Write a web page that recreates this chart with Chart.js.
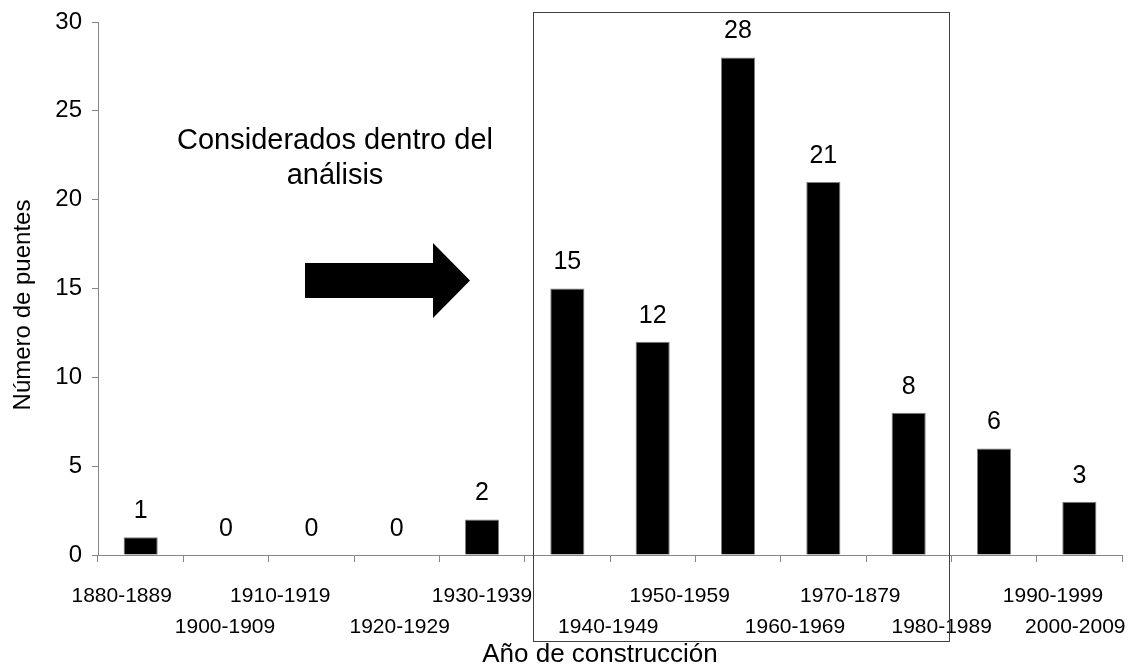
<!DOCTYPE html>
<html>
<head>
<meta charset="utf-8">
<script src="https://cdn.jsdelivr.net/npm/chart.js@4"></script>
<style>
  html, body { margin: 0; padding: 0; background: #fff; }
  #wrap { width: 1136px; height: 666px; }
</style>
</head>
<body>
<div id="wrap"><canvas id="chart" width="1136" height="666"></canvas></div>
<script>
const categories = ["1880-1889", "1900-1909", "1910-1919", "1920-1929", "1930-1939", "1940-1949",
    "1950-1959", "1960-1969", "1970-1879", "1980-1989", "1990-1999", "2000-2009"];
const bridgeCounts = [1, 0, 0, 0, 2, 15, 12, 28, 21, 8, 6, 3];
const yTicks = [0, 5, 10, 15, 20, 25, 30];

// the original staggers the decade labels in two rows and nudges them sideways
const labelNudge = [-19, -1, -31, 3, 0, 41, 27, 57, 27, 33, 59, -4];

const axisGray = "#868686";
const textFont = "'Liberation Sans', Arial, sans-serif";

// value labels above each bar
const barLabels = {
    id: "barLabels",
    afterDatasetsDraw(chart) {
        const ctx = chart.ctx;
        const meta = chart.getDatasetMeta(0);
        ctx.save();
        ctx.font = "25px " + textFont;
        ctx.fillStyle = "#000";
        ctx.textAlign = "center";
        ctx.textBaseline = "middle";
        meta.data.forEach((bar, i) => {
            ctx.fillText(String(bridgeCounts[i]), bar.x, bar.y - 26);
        });
        ctx.restore();
    }
};

// decade labels and axis titles
const axisText = {
    id: "axisText",
    afterDraw(chart) {
        const ctx = chart.ctx;
        const x = chart.scales.x;
        const area = chart.chartArea;
        ctx.save();
        ctx.fillStyle = "#000";
        ctx.textAlign = "center";
        ctx.textBaseline = "middle";
        ctx.font = "21px " + textFont;
        categories.forEach((label, i) => {
            const px = x.getPixelForValue(i) + labelNudge[i];
            const py = area.bottom + (i % 2 === 0 ? 41 : 72);
            ctx.fillText(label, px, py);
        });

        ctx.font = "26px " + textFont;
        ctx.fillText("Año de construcción", 600, 655);

        ctx.translate(23, 305);
        ctx.rotate(-Math.PI / 2);
        ctx.font = "24px " + textFont;
        ctx.fillText("Número de puentes", 0, 0);
        ctx.restore();
    }
};

// box around the analysed decades, arrow and note
const analysisNote = {
    id: "analysisNote",
    afterDraw(chart) {
        const ctx = chart.ctx;
        ctx.save();
        ctx.strokeStyle = "#404040";
        ctx.lineWidth = 1;
        ctx.strokeRect(533.5, 12.5, 416, 629);

        ctx.fillStyle = "#000";
        ctx.beginPath();
        ctx.moveTo(305, 263);
        ctx.lineTo(433, 263);
        ctx.lineTo(433, 243);
        ctx.lineTo(470, 280.5);
        ctx.lineTo(433, 318);
        ctx.lineTo(433, 298);
        ctx.lineTo(305, 298);
        ctx.closePath();
        ctx.fill();

        ctx.font = "29px " + textFont;
        ctx.textAlign = "center";
        ctx.textBaseline = "middle";
        ctx.fillText("Considerados dentro del", 335, 141);
        ctx.fillText("análisis", 335, 176);
        ctx.restore();
    }
};

new Chart(document.getElementById("chart"), {
    type: "bar",
    data: {
        labels: categories,
        datasets: [{
            data: bridgeCounts,
            backgroundColor: "#000",
            borderColor: "#7f7f7f",
            borderWidth: 1,
            categoryPercentage: 1,
            barPercentage: 0.4
        }]
    },
    options: {
        responsive: false,
        animation: false,
        layout: { padding: { top: 22, right: 14, left: 0, bottom: 0 } },
        plugins: {
            legend: { display: false },
            tooltip: { enabled: false }
        },
        scales: {
            x: {
                afterFit: s => { s.height = 111; s.paddingLeft = 0; s.paddingRight = 0; },
                border: { color: axisGray, width: 1 },
                grid: { drawOnChartArea: false, color: axisGray, tickLength: 7, offset: true },
                ticks: { display: false, autoSkip: false }
            },
            y: {
                min: 0,
                max: 30,
                afterFit: s => { s.width = 98; s.paddingTop = 0; s.paddingBottom = 0; },
                afterBuildTicks: s => { s.ticks = yTicks.map(v => ({ value: v })); },
                border: { color: axisGray, width: 1 },
                grid: { drawOnChartArea: false, color: axisGray, tickLength: 6 },
                ticks: {
                    padding: 10,
                    color: "#000",
                    font: { family: textFont, size: 24 }
                }
            }
        }
    },
    plugins: [barLabels, axisText, analysisNote]
});
</script>
</body>
</html>
